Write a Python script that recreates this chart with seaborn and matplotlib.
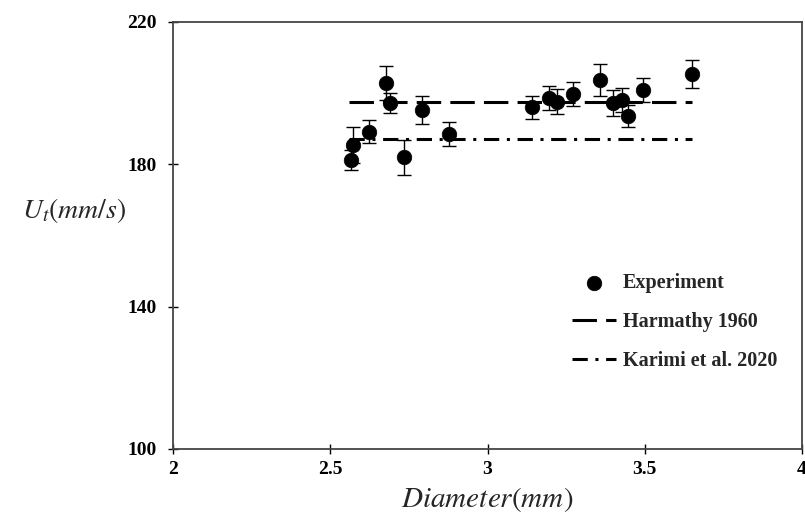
import numpy as np
import pandas as pd
import matplotlib
matplotlib.use("Agg")
import matplotlib.pyplot as plt
import seaborn as sns

# experiment points
diameter = [2.565, 2.573, 2.624, 2.676, 2.690, 2.734, 2.791, 2.879, 3.142,
            3.196, 3.220, 3.271, 3.358, 3.398, 3.427, 3.446, 3.495, 3.649]
velocity = [181.2, 185.4, 189.2, 202.9, 197.3, 182.0, 195.3, 188.5, 196.0,
            198.7, 197.6, 199.7, 203.7, 197.2, 198.1, 193.6, 200.9, 205.4]
err = [2.8, 5.0, 3.3, 4.8, 2.8, 4.9, 3.9, 3.4, 3.2,
       3.3, 3.5, 3.4, 4.5, 3.6, 3.3, 3.0, 3.3, 4.0]

# model lines
line_x = [2.56, 3.65]
harmathy = [197.6, 197.6]
karimi = [187.1, 187.1]

sns.set_theme(style="white")
plt.rcParams['font.family'] = ['Liberation Serif', 'DejaVu Serif']
plt.rcParams['mathtext.fontset'] = 'stix'

fig = plt.figure(figsize=(8.05, 5.23), dpi=100)
ax = fig.add_axes([0.2149, 0.1415, 0.7814, 0.8165])

df = pd.DataFrame({'d': diameter, 'u': velocity, 'e': err})

ax.errorbar(df.d, df.u, yerr=df.e, fmt='none', ecolor='black',
            elinewidth=1, capsize=5, capthick=1, zorder=2)
sns.scatterplot(data=df, x='d', y='u', ax=ax, color='black', s=110,
                edgecolor='black', linewidth=0.5, label='Experiment', zorder=3)
sns.lineplot(x=line_x, y=harmathy, ax=ax, color='black', lw=2.2,
             dashes=False, label='Harmathy 1960', zorder=1)
sns.lineplot(x=line_x, y=karimi, ax=ax, color='black', lw=2.2,
             dashes=False, label='Karimi et al. 2020', zorder=1)
ax.lines[-2].set_dashes([8, 3])
ax.lines[-1].set_dashes([5, 2.5, 1, 2.5])

ax.set_xlim(2, 4)
ax.set_ylim(100, 220)
ax.set_xticks([2, 2.5, 3, 3.5, 4])
ax.set_xticklabels(['2', '2.5', '3', '3.5', '4'])
ax.set_yticks([100, 140, 180, 220])

for s in ax.spines.values():
    s.set_color('#444444')
    s.set_linewidth(1.3)
ax.tick_params(bottom=True, left=True, direction='inout', length=7, width=1,
               colors='black', labelsize=14, pad=5)
ax.tick_params(axis='y', pad=8)
for lab in ax.get_xticklabels() + ax.get_yticklabels():
    lab.set_fontweight('bold')

ax.set_xlabel(r'$Diameter(mm)$', fontsize=21, labelpad=5)
ax.set_ylabel(r'$U_t(mm/s)$', fontsize=20, rotation=0, labelpad=0)
ax.yaxis.set_label_coords(-0.157, 0.525)

leg = ax.legend(loc='upper left', bbox_to_anchor=(0.605, 0.455), frameon=False,
                prop={'weight': 'bold', 'size': 14.5}, handlelength=2.2,
                labelspacing=0.95, handletextpad=0.35)

fig.savefig('out.png', dpi=100)
